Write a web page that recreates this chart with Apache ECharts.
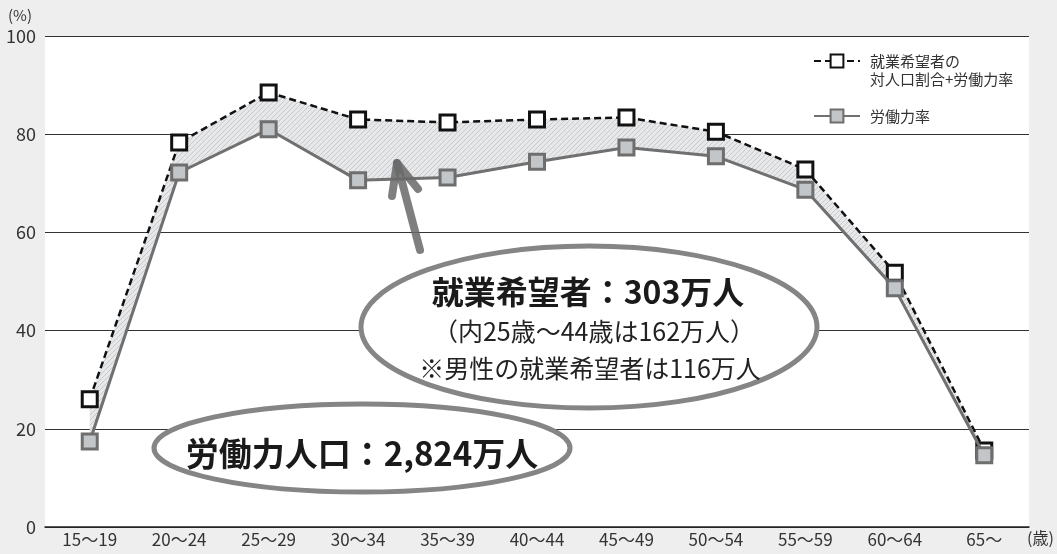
<!DOCTYPE html>
<html>
<head>
    <meta charset="utf-8" />
    <title>ECharts</title>
    <script src="https://cdn.jsdelivr.net/npm/echarts@6/dist/echarts.min.js"></script>
</head>
<body style="margin: 0; background: #eeeeee">
    <div id="main" style="width: 1057px; height: 554px"></div>
    <script type="text/javascript">
        var ages = ["15～19", "20～24", "25～29", "30～34", "35～39", "40～44", "45～49", "50～54", "55～59", "60～64", "65～"];
        // 就業希望者の対人口割合+労働力率
        var hopeRate = [26.0, 78.3, 88.5, 83.0, 82.4, 83.0, 83.4, 80.5, 72.8, 51.8, 15.6];
        // 労働力率
        var laborRate = [17.4, 72.2, 81.0, 70.6, 71.2, 74.4, 77.3, 75.5, 68.7, 48.6, 14.6];
        var yTicks = [0, 20, 40, 60, 80, 100];

        var nameHope = "就業希望者の\n対人口割合+労働力率";
        var nameLabor = "労働力率";
        var font = "'Noto Sans CJK JP', 'Noto Sans', sans-serif";

        // gap between the two lines, stacked on top of labor rate
        var gap = hopeRate.map(function (v, i) {
            return +(v - laborRate[i]).toFixed(1);
        });

        // hatch pattern for the shaded band
        var hatch = document.createElement("canvas");
        hatch.width = 5;
        hatch.height = 5;
        var ctx = hatch.getContext("2d");
        ctx.fillStyle = "#e7e8ea";
        ctx.fillRect(0, 0, 5, 5);
        ctx.strokeStyle = "#c9cacd";
        ctx.lineWidth = 1;
        ctx.beginPath();
        ctx.moveTo(0, 5);
        ctx.lineTo(5, 0);
        ctx.moveTo(-1, 1);
        ctx.lineTo(1, -1);
        ctx.moveTo(4, 6);
        ctx.lineTo(6, 4);
        ctx.stroke();

        var myChart = echarts.init(document.getElementById("main"));

        var option = {
            backgroundColor: "#eeeeee",
            textStyle: { fontFamily: font },
            animation: false,
            grid: {
                left: 45,
                right: 28,
                top: 36,
                bottom: 27,
                show: true,
                backgroundColor: "#ffffff",
                borderWidth: 0,
            },
            legend: {
                orient: "vertical",
                left: 808,
                top: 29,
                itemWidth: 46,
                itemHeight: 16,
                itemGap: 19,
                textStyle: { fontSize: 15, color: "#333", lineHeight: 18, padding: [0, 0, 0, 5] },
                // blank first line keeps the icon level with the first text line
                formatter: function (name) {
                    return name === nameHope ? " \n" + name : name;
                },
                data: [nameHope, nameLabor],
            },
            xAxis: {
                type: "category",
                data: ages,
                boundaryGap: true,
                axisLine: { lineStyle: { color: "#222", width: 1.5 } },
                axisTick: { inside: true, length: 7, lineStyle: { color: "#222" } },
                axisLabel: { fontSize: 17, color: "#333", margin: 4 },
            },
            yAxis: {
                type: "value",
                min: 0,
                max: 100,
                interval: 20,
                axisLine: { show: false },
                axisTick: { show: false },
                axisLabel: { fontSize: 18, color: "#333", margin: 9 },
                splitLine: { lineStyle: { color: "#333", width: 1 } },
            },
            series: [
                {
                    name: "base",
                    type: "line",
                    stack: "band",
                    data: laborRate,
                    symbol: "none",
                    lineStyle: { opacity: 0 },
                    silent: true,
                    z: 1,
                },
                {
                    name: "gap",
                    type: "line",
                    stack: "band",
                    data: gap,
                    symbol: "none",
                    lineStyle: { opacity: 0 },
                    areaStyle: { color: { image: hatch, repeat: "repeat" }, opacity: 1 },
                    silent: true,
                    z: 1,
                },
                {
                    name: nameHope,
                    type: "line",
                    data: hopeRate,
                    symbol: "rect",
                    symbolSize: 15,
                    lineStyle: { color: "#111", width: 2.5, type: [7, 4] },
                    itemStyle: { color: "#ffffff", borderColor: "#111", borderWidth: 3 },
                    z: 3,
                },
                {
                    name: nameLabor,
                    type: "line",
                    data: laborRate,
                    symbol: "rect",
                    symbolSize: 15,
                    lineStyle: { color: "#707070", width: 3 },
                    itemStyle: { color: "#c3c6c9", borderColor: "#6e6e6e", borderWidth: 3 },
                    z: 4,
                },
            ],
            graphic: [
                {
                    type: "text",
                    left: 8,
                    top: 8,
                    style: { text: "(%)", fill: "#333", font: "15px " + font },
                },
                {
                    type: "text",
                    left: 1027,
                    top: 530,
                    style: { text: "(歳)", fill: "#333", font: "16px " + font },
                },
                // arrow from bubble to the band
                {
                    type: "polyline",
                    z: 50,
                    shape: { points: [[420, 250], [397, 163]] },
                    style: { stroke: "rgba(105,105,105,0.85)", lineWidth: 8, lineCap: "round" },
                },
                {
                    type: "polyline",
                    z: 50,
                    shape: { points: [[392, 196], [397, 163], [418, 189]] },
                    style: { stroke: "rgba(105,105,105,0.85)", lineWidth: 8, lineCap: "round", lineJoin: "round", fill: null },
                },
                // bubble: 就業希望者
                {
                    type: "ellipse",
                    z: 60,
                    shape: { cx: 589, cy: 327, rx: 228, ry: 81 },
                    style: { fill: "#ffffff", stroke: "#858585", lineWidth: 5 },
                },
                {
                    type: "text",
                    z: 61,
                    x: 588,
                    y: 292,
                    style: { text: "就業希望者：303万人", fill: "#1a1a1a", font: "bold 32px " + font, align: "center", verticalAlign: "middle" },
                },
                {
                    type: "text",
                    z: 61,
                    x: 594,
                    y: 331,
                    style: { text: "（内25歳～44歳は162万人）", fill: "#222", font: "25px " + font, align: "center", verticalAlign: "middle" },
                },
                {
                    type: "text",
                    z: 61,
                    x: 590,
                    y: 368,
                    style: { text: "※男性の就業希望者は116万人", fill: "#222", font: "25px " + font, align: "center", verticalAlign: "middle" },
                },
                // bubble: 労働力人口
                {
                    type: "ellipse",
                    z: 70,
                    shape: { cx: 362, cy: 448, rx: 208, ry: 44 },
                    style: { fill: "#ffffff", stroke: "#858585", lineWidth: 5 },
                },
                {
                    type: "text",
                    z: 71,
                    x: 362,
                    y: 453,
                    style: { text: "労働力人口：2,824万人", fill: "#1a1a1a", font: "bold 33px " + font, align: "center", verticalAlign: "middle" },
                },
            ],
        };
        myChart.setOption(option);
    </script>
</body>
</html>
